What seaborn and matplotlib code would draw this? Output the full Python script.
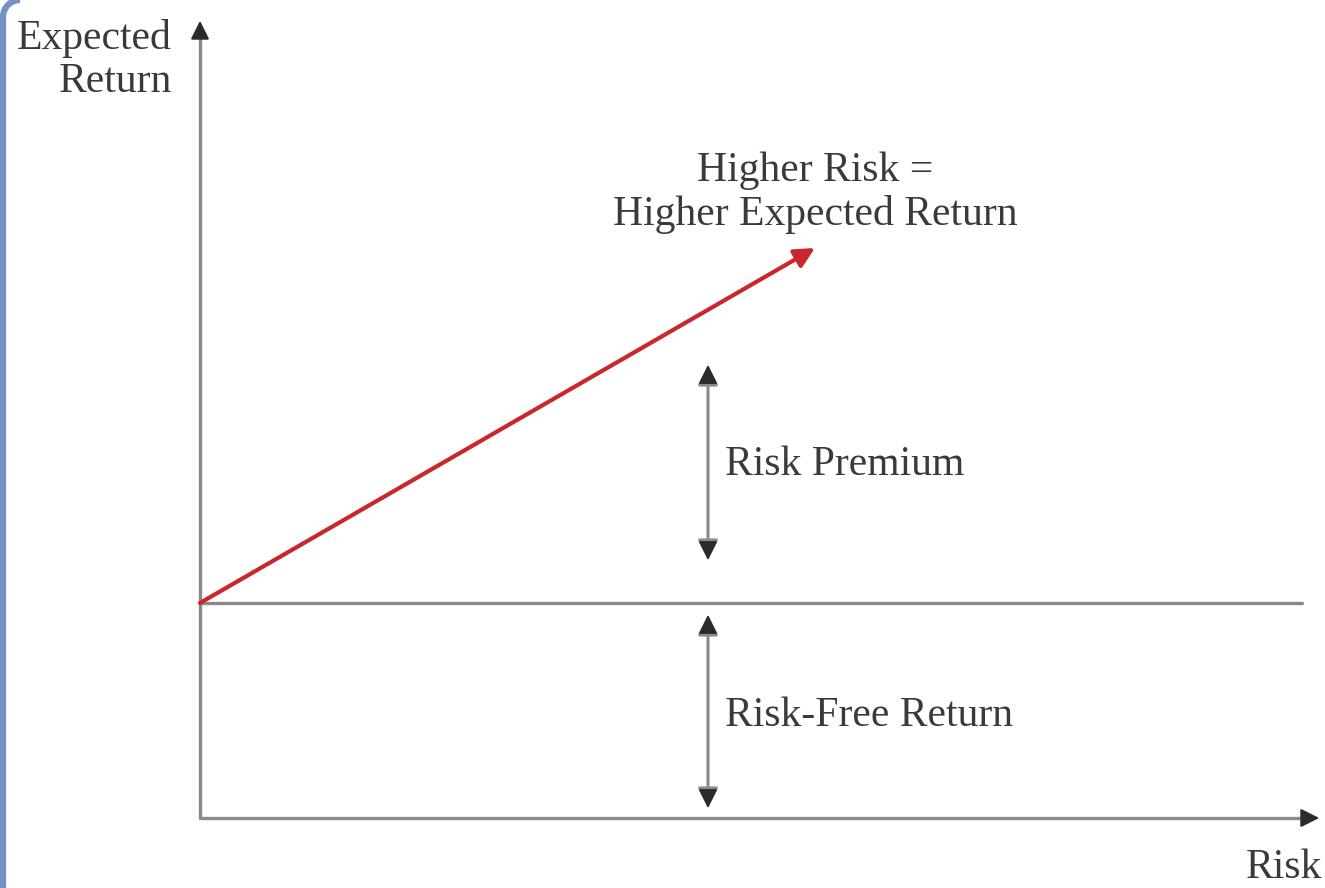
import numpy as np
import pandas as pd
import matplotlib.pyplot as plt
import seaborn as sns
from matplotlib.patches import Arc
from matplotlib.lines import Line2D

# Diagram values (in drawing units: x = risk, y = expected return)
risk_free = 215
x_axis_end = 1122
y_axis_top = 800
flat_line_end = 1102
high_risk = [0, 615]
high_return = [risk_free, 570]
gap_x = 508
premium_span = [258, 453]
riskfree_span = [10, 203]

labels = {
    "ylabel": "Expected\nReturn",
    "xlabel": "Risk",
    "slope": "Higher Risk =\nHigher Expected Return",
    "premium": "Risk Premium",
    "riskfree": "Risk-Free Return",
}

sns.set_theme(style="white")
plt.rcParams['font.family'] = ['Liberation Serif', 'DejaVu Serif']

fig = plt.figure(figsize=(13.25, 8.88), dpi=100)
ax = fig.add_axes([0, 0, 1, 1])
ax.set_xlim(-200, 1125)
ax.set_ylim(-70, 818)
ax.axis("off")

grey = "#8a8a8a"
dark = "#2b2b2b"
txt = "#3a3a3a"
red = "#c9272b"
blue = "#7592c4"

# blue frame on the left edge with rounded top corner (inches)
H = 8.88
fig.add_artist(Line2D([0.03, 0.03], [-0.1, H - 0.17], transform=fig.dpi_scale_trans,
                      color=blue, lw=4.5, solid_capstyle="butt"))
fig.add_artist(Arc((0.20, H - 0.17), 0.34, 0.34, theta1=90, theta2=180,
                   transform=fig.dpi_scale_trans, color=blue, lw=4.5))

# axes shafts
axes_df = pd.DataFrame({"x": [0, 0, x_axis_end - 12], "y": [y_axis_top - 12, 0, 0]})
sns.lineplot(data=axes_df, x="x", y="y", sort=False, estimator=None, color=grey, lw=2.4, ax=ax)

# axis arrowheads
ax.annotate("", xy=(0, y_axis_top), xytext=(0, y_axis_top - 20),
            arrowprops=dict(arrowstyle="-|>", color=dark, mutation_scale=28, lw=1.5))
ax.annotate("", xy=(x_axis_end, 0), xytext=(x_axis_end - 20, 0),
            arrowprops=dict(arrowstyle="-|>", color=dark, mutation_scale=28, lw=1.5))

# risk-free level
flat_df = pd.DataFrame({"x": [0, flat_line_end], "y": [risk_free, risk_free]})
sns.lineplot(data=flat_df, x="x", y="y", color=grey, lw=2.4, ax=ax)

# red higher-risk arrow
ax.annotate("", xy=(high_risk[1], high_return[1]), xytext=(high_risk[0], high_return[0]),
            arrowprops=dict(arrowstyle="-|>", color=red, mutation_scale=30, lw=3,
                            shrinkA=0, shrinkB=0))

# double arrows
for lo, hi in [premium_span, riskfree_span]:
    ax.annotate("", xy=(gap_x, hi), xytext=(gap_x, lo),
                arrowprops=dict(arrowstyle="<|-|>", color=grey, mutation_scale=30, lw=2.2,
                                shrinkA=0, shrinkB=0))
    for tip, base in [(hi, hi - 18), (lo, lo + 18)]:
        ax.annotate("", xy=(gap_x, tip), xytext=(gap_x, base),
                    arrowprops=dict(arrowstyle="-|>", color=dark, mutation_scale=30, lw=1,
                                    shrinkA=0, shrinkB=0))

fs = 30
ax.text(-28, 758, labels["ylabel"], ha="right", va="center", fontsize=fs, color=txt,
        linespacing=1.17, multialignment="right")
ax.text(615, 625, labels["slope"], ha="center", va="center", fontsize=fs, color=txt,
        linespacing=1.17)
ax.text(525, 353, labels["premium"], ha="left", va="center", fontsize=fs, color=txt)
ax.text(525, 102, labels["riskfree"], ha="left", va="center", fontsize=fs, color=txt)
ax.text(1122, -50, labels["xlabel"], ha="right", va="center", fontsize=fs, color=txt)

fig.savefig("out.png", dpi=100)
